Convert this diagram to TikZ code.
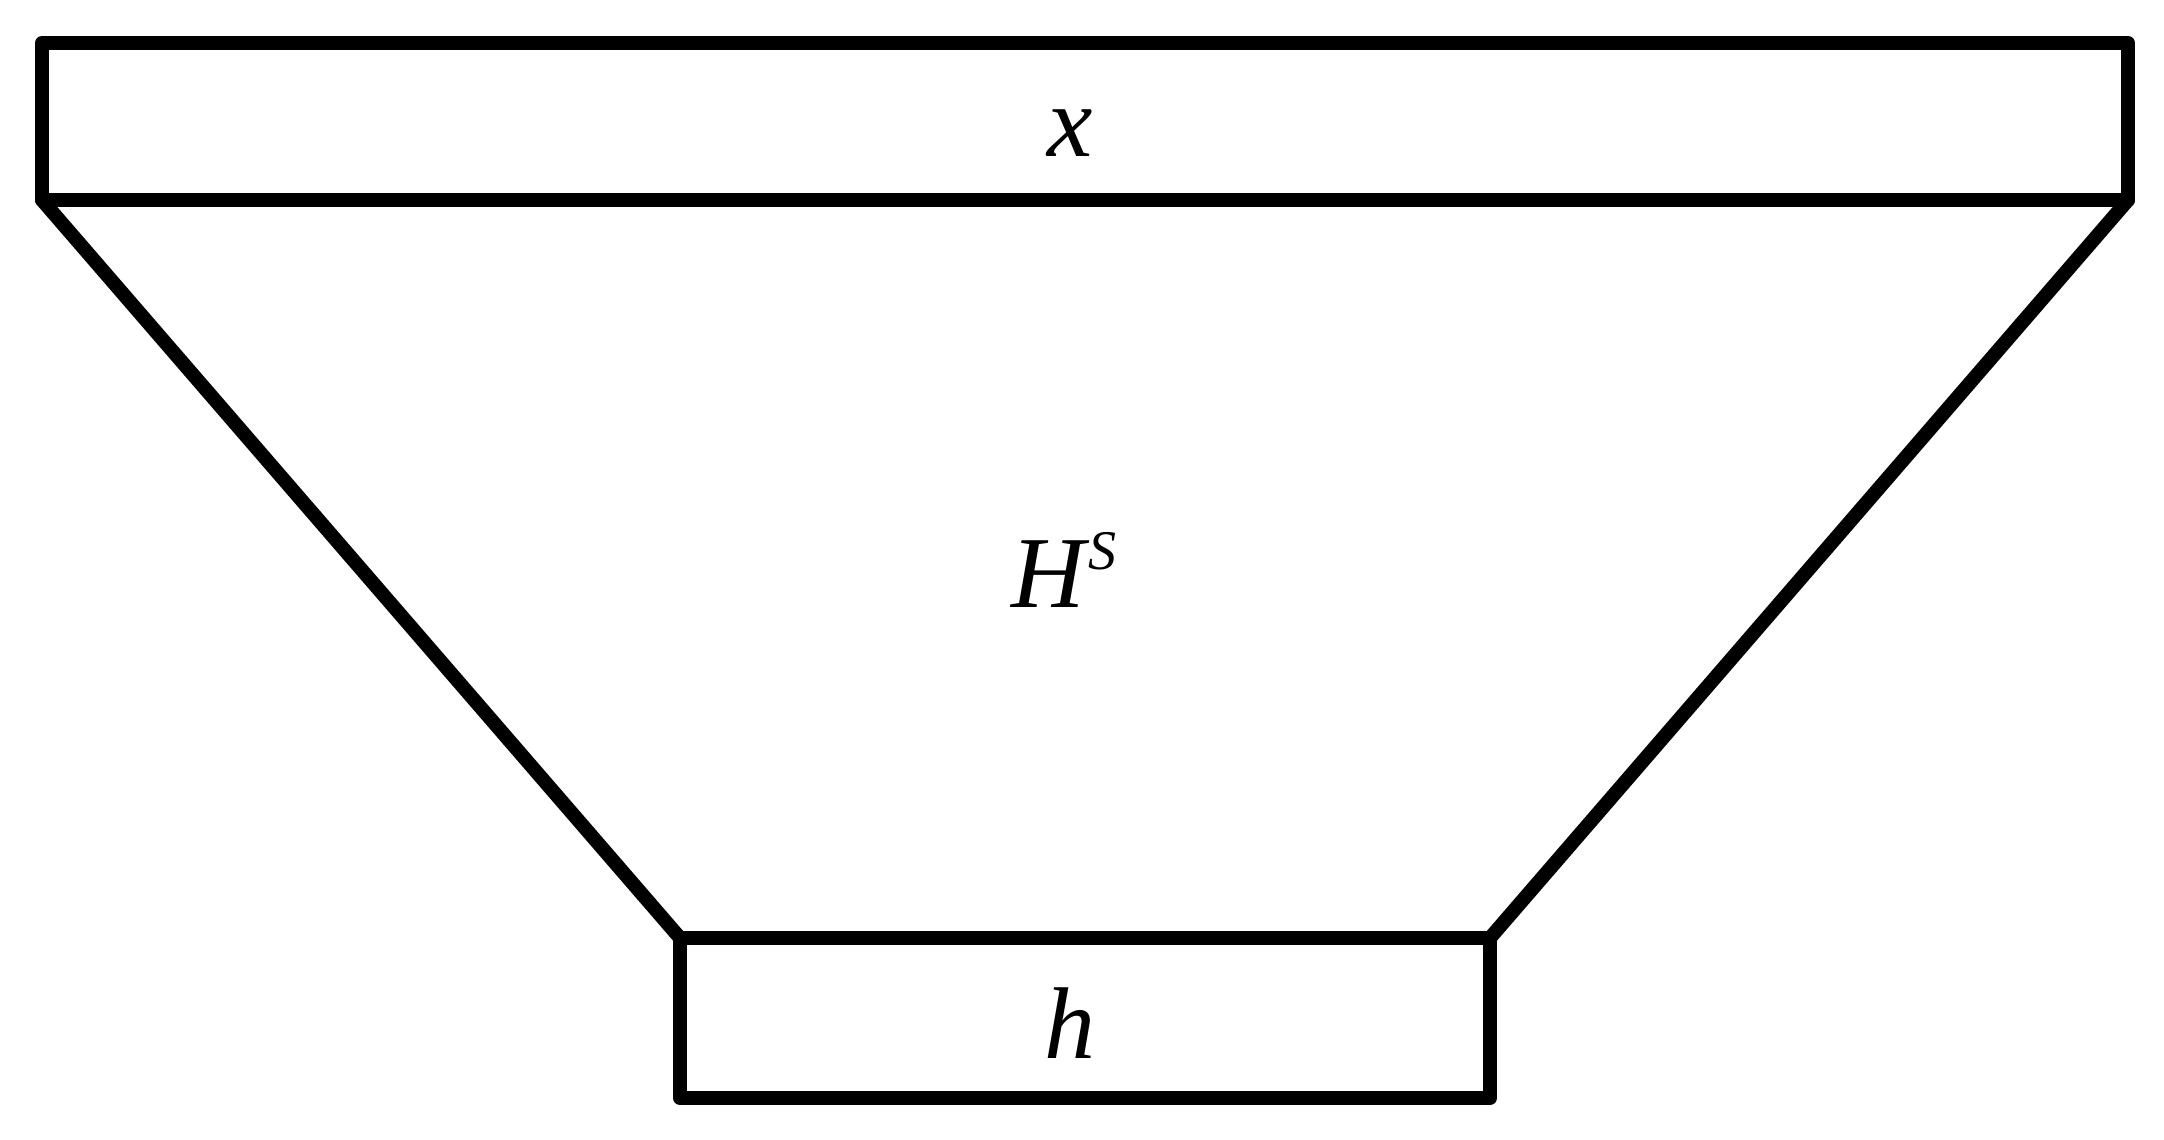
\documentclass[tikz,border=0pt]{standalone}
\usepackage{fontspec}
\setmainfont{Liberation Serif}
\begin{document}
\begin{tikzpicture}[x=0.5pt,y=-0.5pt,
  box/.style={draw=black,line width=7pt,line join=round,inner sep=0pt,outer sep=0pt},
  conn/.style={draw=black,line width=7pt,line cap=round},
  lbl/.style={anchor=base,inner sep=0pt,font=\fontsize{51}{60}\selectfont\itshape}]
\useasboundingbox (0,0) rectangle (2164,1140);
\node[box,minimum width=1043pt,minimum height=78.5pt] (top) at (1085,121.5) {};
\node[box,minimum width=405pt,minimum height=80pt] (bot) at (1085,1018) {};
\draw[conn] (top.south west) -- (bot.north west);
\draw[conn] (top.south east) -- (bot.north east);
\node[lbl] (xl) at (1070,156) {x};
\node[lbl] (hs) at (1064,607) {H\hspace{2pt}\raisebox{19pt}{\fontsize{28}{30}\selectfont S}};
\node[lbl] (hl) at (1070,1058) {h};
\end{tikzpicture}
\end{document}
